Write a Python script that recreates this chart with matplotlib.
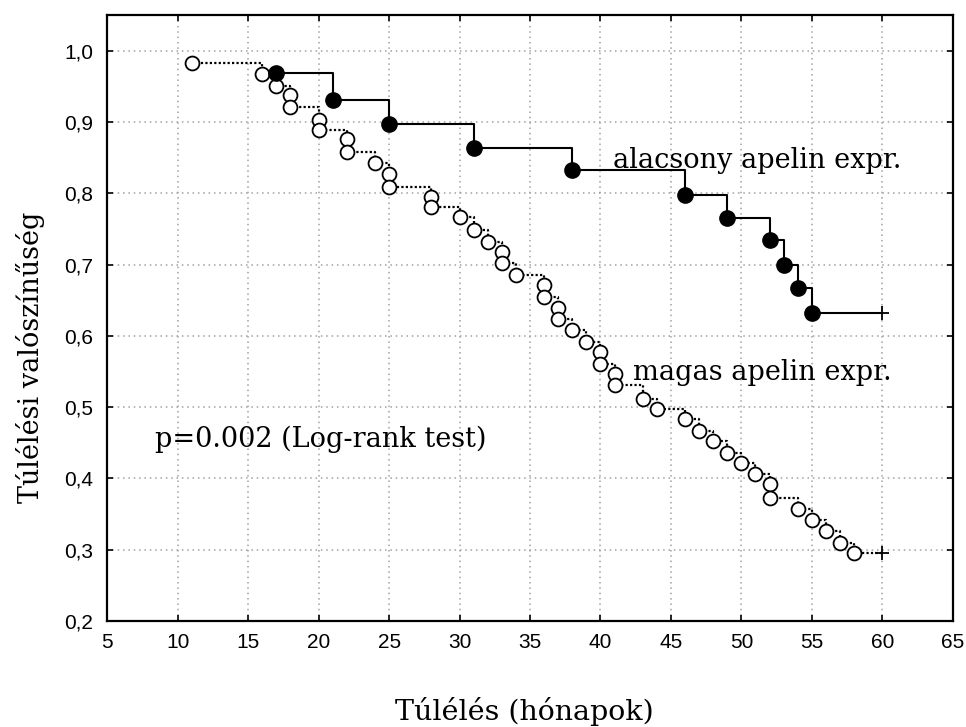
import matplotlib
matplotlib.use("Agg")
import matplotlib.pyplot as plt

# ---- data ----
low_times = [17, 21, 25, 31, 38, 46, 49, 52, 53, 54, 55]
low_surv = [0.968, 0.931, 0.897, 0.864, 0.832, 0.798, 0.765, 0.734, 0.699, 0.667, 0.632]
low_censor_time = 60

high_times = [11, 16, 17, 18, 18, 20, 20, 22, 22, 24, 25, 25, 28, 28, 30, 31, 32, 33, 33, 34,
              36, 36, 37, 37, 38, 39, 40, 40, 41, 41, 43, 44, 46, 47, 48, 49, 50, 51, 52, 52,
              54, 55, 56, 57, 58]
high_surv = [0.982, 0.967, 0.950, 0.938, 0.921, 0.903, 0.889, 0.876, 0.858, 0.842, 0.827, 0.809,
             0.795, 0.780, 0.766, 0.748, 0.732, 0.718, 0.702, 0.685, 0.671, 0.655, 0.639, 0.623,
             0.608, 0.592, 0.577, 0.561, 0.547, 0.531, 0.512, 0.497, 0.483, 0.467, 0.453, 0.436,
             0.422, 0.406, 0.392, 0.372, 0.357, 0.342, 0.326, 0.310, 0.295]
high_censor_time = 60

xticks = [5, 10, 15, 20, 25, 30, 35, 40, 45, 50, 55, 60, 65]
yticks = [0.2, 0.3, 0.4, 0.5, 0.6, 0.7, 0.8, 0.9, 1.0]
ytick_labels = ["0,2", "0,3", "0,4", "0,5", "0,6", "0,7", "0,8", "0,9", "1,0"]

label_low = "alacsony apelin expr."
label_high = "magas apelin expr."
label_p = "p=0.002 (Log-rank test)"
xlabel = "Túlélés (hónapok)"
ylabel = "Túlélési valószínűség"

# ---- figure ----
fig = plt.figure(figsize=(9.66, 7.27), dpi=100)
ax = fig.add_axes([107.2 / 966, 1 - 621 / 727, (952.8 - 107.2) / 966, (621 - 15) / 727])

serif = "DejaVu Serif"
tickfont = "Liberation Sans"

# grid
ax.grid(True, color="#a0a0a0", linestyle=(0, (1, 2.5)), linewidth=1.1)
ax.set_axisbelow(True)

# high expression (open circles, dotted step)
hx = high_times + [high_censor_time]
hy = high_surv + [high_surv[-1]]
ax.step(hx, hy, where="post", color="black", linestyle=(0, (1, 1)), linewidth=1.6, zorder=3)
ax.plot(high_times, high_surv, linestyle="none", marker="o", markersize=10,
        markerfacecolor="white", markeredgecolor="black", markeredgewidth=1.3, zorder=4)
ax.plot([high_censor_time], [high_surv[-1]], linestyle="none", marker="+", markersize=10,
        color="black", markeredgewidth=1.3, zorder=5)

# low expression (filled circles, solid step)
lx = low_times + [low_censor_time]
ly = low_surv + [low_surv[-1]]
ax.step(lx, ly, where="post", color="black", linewidth=1.5, zorder=5)
ax.plot(low_times, low_surv, linestyle="none", marker="o", markersize=11,
        color="black", zorder=6)
ax.plot([low_censor_time], [low_surv[-1]], linestyle="none", marker="+", markersize=10,
        color="black", markeredgewidth=1.3, zorder=6)

ax.set_xlim(5, 65)
ax.set_ylim(0.2, 1.05)
ax.set_xticks(xticks)
ax.set_xticklabels([str(t) for t in xticks])
ax.set_yticks(yticks)
ax.set_yticklabels(ytick_labels)

ax.tick_params(direction="in", length=4, width=1.2, top=True, right=True,
               labelsize=15)
ax.tick_params(axis="x", pad=9)
ax.tick_params(axis="y", pad=10)
for lab in ax.get_xticklabels() + ax.get_yticklabels():
    lab.set_family(tickfont)

for s in ax.spines.values():
    s.set_linewidth(1.6)
    s.set_color("black")

# annotations
ax.text(40.9, 0.835, label_low, family=serif, fontsize=19.5, va="baseline", ha="left", zorder=7)
ax.text(42.3, 0.538, label_high, family=serif, fontsize=19.5, va="baseline", ha="left", zorder=7)
ax.text(8.4, 0.4445, label_p, family=serif, fontsize=19.5, va="baseline", ha="left", zorder=7)

fig.text(524 / 966, 1 - 720 / 727, xlabel, family=serif, fontsize=20.5, ha="center", va="baseline")
fig.text(31 / 966, 1 - 357 / 727, ylabel, family=serif, fontsize=19.5, ha="center", va="center",
         rotation=90)

fig.savefig("out.png", dpi=100)
